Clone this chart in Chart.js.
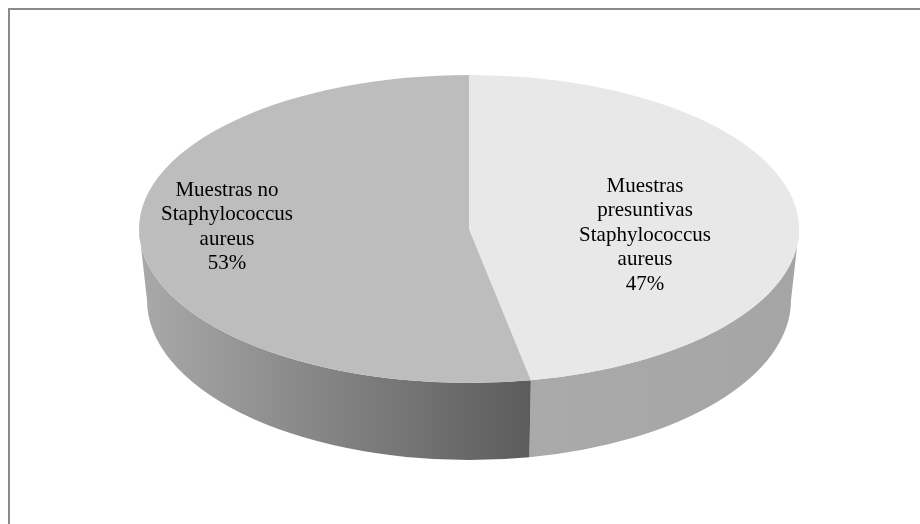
<!DOCTYPE html>
<html>
<head>
<meta charset="utf-8">
<script src="https://cdn.jsdelivr.net/npm/chart.js@4"></script>
<style>
  html, body { margin: 0; padding: 0; background: #fff; }
  canvas { display: block; }
</style>
</head>
<body>
<canvas id="pie" width="920" height="524"></canvas>
<script>
// Data
const categories = [
    ["Muestras", "presuntivas", "Staphylococcus", "aureus"],
    ["Muestras no", "Staphylococcus", "aureus"]
];
const values = [47, 53];

// Look of the 3D pie
const topColors = ['#e8e8e8', '#bdbdbd'];
const CX = 469, CY = 229, RX = 330, RY = 154;     // top face
const BCY = 300, BRX = 322, BRY = 160;            // bottom rim
const labelPos = [[645, 186], [227, 190]];
const LINE_H = 24.5;

function sideFill(ctx, i) {
    if (i === 0) {
        const g = ctx.createLinearGradient(530, 0, 800, 0);
        g.addColorStop(0, '#aaaaaa');
        g.addColorStop(1, '#a5a5a5');
        return g;
    }
    const g = ctx.createLinearGradient(145, 0, 531, 0);
    g.addColorStop(0, '#a8a8a8');
    g.addColorStop(1, '#5c5c5c');
    return g;
}

const pie3d = {
    id: 'pie3d',
    beforeDraw(chart) {
        const ctx = chart.ctx;
        ctx.save();
        ctx.fillStyle = '#8a8a8a';
        ctx.fillRect(8, 8, 912, 2);
        ctx.fillRect(8, 8, 2, 516);
        ctx.restore();
    },
    beforeDatasetsDraw(chart) {
        const ctx = chart.ctx;
        const arcs = chart.getDatasetMeta(0).data;
        // front side of each slice (only the part facing the viewer)
        arcs.forEach((arc, i) => {
            const a0 = Math.max(arc.startAngle, 0);
            const a1 = Math.min(arc.endAngle, Math.PI);
            if (a1 <= a0) return;
            ctx.save();
            ctx.beginPath();
            ctx.ellipse(CX, CY, RX, RY, 0, a0, a1, false);
            ctx.ellipse(CX, BCY, BRX, BRY, 0, a1, a0, true);
            ctx.closePath();
            ctx.fillStyle = sideFill(ctx, i);
            ctx.fill();
            ctx.restore();
        });
        // squash the circular pie into the top ellipse
        const a = arcs[0];
        ctx.save();
        ctx.translate(CX, CY);
        ctx.scale(RX / a.outerRadius, RY / a.outerRadius);
        ctx.translate(-a.x, -a.y);
    },
    afterDatasetsDraw(chart) {
        chart.ctx.restore();
    },
    afterDraw(chart) {
        const ctx = chart.ctx;
        const total = values.reduce((s, v) => s + v, 0);
        ctx.save();
        ctx.font = '21px "Liberation Serif", "Times New Roman", serif';
        ctx.fillStyle = '#000';
        ctx.textAlign = 'center';
        ctx.textBaseline = 'middle';
        categories.forEach((lines, i) => {
            const all = lines.concat([Math.round(values[i] / total * 100) + '%']);
            const [x, y] = labelPos[i];
            all.forEach((t, k) => ctx.fillText(t, x, y + k * LINE_H));
        });
        ctx.restore();
    }
};

new Chart(document.getElementById('pie'), {
    type: 'pie',
    data: {
        labels: categories.map(l => l.join(' ')),
        datasets: [{
            data: values,
            backgroundColor: topColors,
            borderWidth: 0,
            clip: false
        }]
    },
    options: {
        responsive: false,
        animation: false,
        events: [],
        rotation: 0,
        layout: { padding: 20 },
        plugins: {
            legend: { display: false },
            tooltip: { enabled: false }
        }
    },
    plugins: [pie3d]
});
</script>
</body>
</html>
